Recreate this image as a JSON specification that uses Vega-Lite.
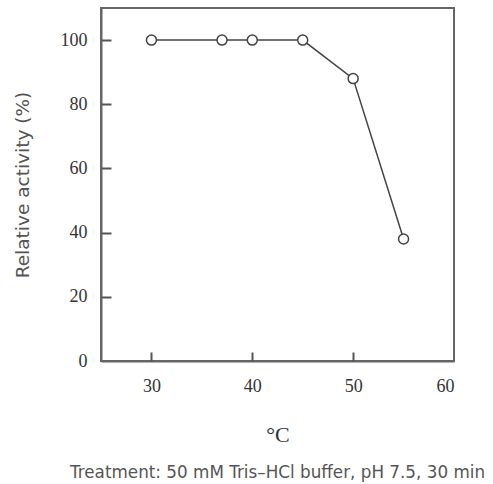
{
  "$schema": "https://vega.github.io/schema/vega-lite/v6.json",
  "width": 353,
  "height": 353,
  "autosize": {"type": "none"},
  "padding": {"left": 101, "top": 8, "right": 39, "bottom": 123},
  "background": "white",
  "view": {"stroke": "#666", "strokeWidth": 2},
  "title": {
    "text": "Treatment: 50 mM Tris–HCl buffer, pH 7.5, 30 min",
    "orient": "bottom",
    "anchor": "middle",
    "font": "DejaVu Sans",
    "fontSize": 16.8,
    "fontWeight": "normal",
    "color": "#555",
    "offset": 20
  },
  "data": {
    "values": [
      {"temp": 30, "activity": 100},
      {"temp": 37, "activity": 100},
      {"temp": 40, "activity": 100},
      {"temp": 45, "activity": 100},
      {"temp": 50, "activity": 88},
      {"temp": 55, "activity": 38}
    ]
  },
  "resolve": {"axis": {"x": "independent", "y": "independent"}},
  "layer": [
    {
      "mark": {"type": "line", "color": "#444", "strokeWidth": 1.5},
      "encoding": {
        "x": {
          "field": "temp",
          "type": "quantitative",
          "scale": {"domain": [25, 60], "nice": false, "zero": false},
          "axis": {
            "orient": "bottom",
            "values": [30, 40, 50, 60],
            "title": "°C",
            "titleFont": "Liberation Serif",
            "titleFontSize": 22,
            "titleFontWeight": "normal",
            "titleColor": "#333",
            "titlePadding": 29,
            "labelFont": "Liberation Serif",
            "labelFontSize": 18,
            "labelColor": "#333",
            "labelPadding": 16,
            "ticks": false,
            "domainColor": "#666",
            "domainWidth": 2,
            "grid": false
          }
        },
        "y": {
          "field": "activity",
          "type": "quantitative",
          "scale": {"domain": [0, 110], "nice": false},
          "axis": {
            "orient": "left",
            "values": [0, 20, 40, 60, 80, 100],
            "title": "Relative activity (%)",
            "titleFont": "DejaVu Sans",
            "titleFontSize": 18.5,
            "titleFontWeight": "normal",
            "titleColor": "#555",
            "titlePadding": 28,
            "labelFont": "Liberation Serif",
            "labelFontSize": 18,
            "labelColor": "#333",
            "labelPadding": 14,
            "ticks": false,
            "domainColor": "#666",
            "domainWidth": 2,
            "grid": false
          }
        }
      }
    },
    {
      "mark": {"type": "point", "shape": "circle", "size": 100, "filled": true, "fill": "white", "stroke": "#444", "strokeWidth": 1.5, "opacity": 1},
      "encoding": {
        "x": {
          "field": "temp",
          "type": "quantitative",
          "scale": {"domain": [25, 60], "nice": false, "zero": false},
          "axis": {
            "orient": "bottom",
            "values": [30, 40, 50],
            "title": null,
            "labels": false,
            "domain": false,
            "offset": -9,
            "tickSize": 9,
            "tickColor": "#555",
            "tickWidth": 2,
            "grid": false
          }
        },
        "y": {
          "field": "activity",
          "type": "quantitative",
          "scale": {"domain": [0, 110], "nice": false},
          "axis": {
            "orient": "left",
            "values": [20, 40, 60, 80, 100],
            "title": null,
            "labels": false,
            "domain": false,
            "offset": -10,
            "tickSize": 10,
            "tickColor": "#555",
            "tickWidth": 2,
            "grid": false
          }
        }
      }
    }
  ]
}
